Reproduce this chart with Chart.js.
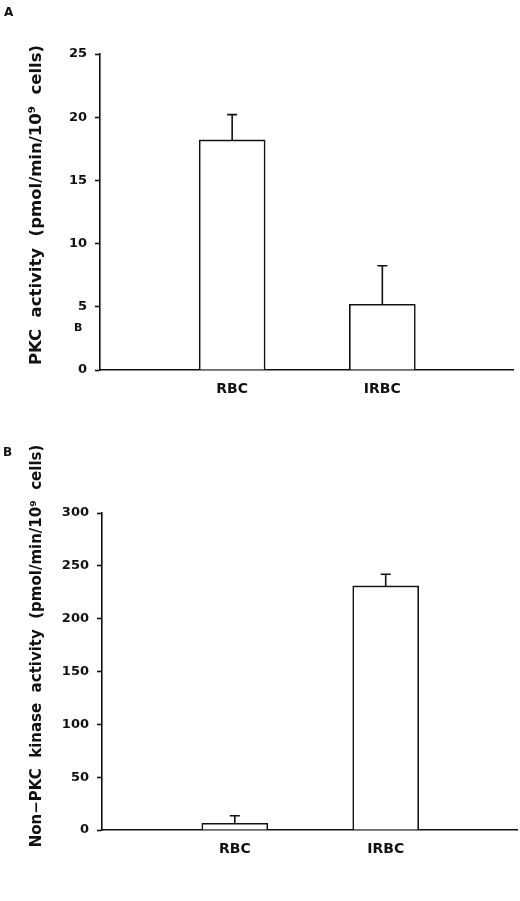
<!DOCTYPE html>
<html>
<head>
<meta charset="utf-8">
<script src="https://cdn.jsdelivr.net/npm/chart.js@4/dist/chart.umd.min.js"></script>
<style>
  html, body { margin: 0; padding: 0; background: #fff; }
  body { width: 520px; height: 901px; position: relative; overflow: hidden; font-family: "DejaVu Sans", sans-serif; }
  .wrap { position: absolute; left: 0; width: 520px; }
  #wa { top: 0; height: 420px; }
  #wb { top: 440px; height: 461px; }
  .lbl { position: absolute; font-weight: bold; color: #111; line-height: 1; }
</style>
</head>
<body>
<div class="wrap" id="wa"><canvas id="ca"></canvas></div>
<div class="wrap" id="wb"><canvas id="cb"></canvas></div>
<div class="lbl" style="left:4px; top:6px; font-size:12px;">A</div>
<div class="lbl" style="left:3px; top:446px; font-size:12px;">B</div>
<div class="lbl" style="left:74px; top:322px; font-size:11px;">B</div>
<script>
// ---- data ----
const categories = ["RBC", "IRBC"];
const pkcValues = [18.2, 5.2];
const pkcErrors = [2.0, 3.05];
const nonPkcValues = [6.3, 231];
const nonPkcErrors = [7.2, 11];
const pkcTitle = "PKC  activity  (pmol/min/10\u2079  cells)";
const nonPkcTitle = "Non\u2212PKC  kinase  activity  (pmol/min/10\u2079  cells)";

Chart.defaults.font.family = "'DejaVu Sans', sans-serif";
Chart.defaults.font.weight = "bold";
Chart.defaults.color = "#111";
Chart.defaults.animation = false;

const errorBarPlugin = {
  id: "errorBars",
  afterDatasetsDraw(chart, args, opts) {
    const ctx = chart.ctx;
    const meta = chart.getDatasetMeta(0);
    const ys = chart.scales.y;
    const errs = opts.errors || [];
    ctx.save();
    ctx.strokeStyle = "#111";
    ctx.lineWidth = 1.6;
    meta.data.forEach((bar, i) => {
      const v = chart.data.datasets[0].data[i].y;
      const yTop = ys.getPixelForValue(v + errs[i]);
      const yBar = ys.getPixelForValue(v);
      ctx.beginPath();
      ctx.moveTo(bar.x, yBar);
      ctx.lineTo(bar.x, yTop);
      ctx.moveTo(bar.x - 5, yTop);
      ctx.lineTo(bar.x + 5, yTop);
      ctx.stroke();
    });
    ctx.restore();
  }
};

const yTitlePlugin = {
  id: "yTitle",
  afterDraw(chart, args, opts) {
    const ctx = chart.ctx;
    ctx.save();
    ctx.translate(opts.x, opts.y);
    ctx.rotate(-Math.PI / 2);
    ctx.font = "bold " + opts.size + "px 'DejaVu Sans', sans-serif";
    ctx.fillStyle = "#111";
    ctx.textAlign = "center";
    ctx.textBaseline = "middle";
    ctx.fillText(opts.text, 0, 0);
    ctx.restore();
  }
};

function makeChart(id, values, errors, yMax, yStep, title, titleSize, titleX, titleY, yWidth, xHeight, padTop, padRight) {
  return new Chart(document.getElementById(id), {
    type: "bar",
    data: {
      datasets: [{
        data: values.map((v, i) => ({ x: i, y: v })),
        backgroundColor: "#fff",
        borderColor: "#111",
        borderWidth: 1.6,
        barThickness: 66
      }]
    },
    options: {
      responsive: true,
      maintainAspectRatio: false,
      layout: { padding: { top: padTop, right: padRight, left: 0, bottom: 0 } },
      plugins: {
        legend: { display: false },
        tooltip: { enabled: false },
        errorBars: { errors: errors },
        yTitle: { text: title, size: titleSize, x: titleX, y: titleY }
      },
      scales: {
        x: {
          type: "linear",
          offset: false,
          min: -0.88,
          max: 1.87,
          grid: { display: false, offset: false },
          border: { display: true, color: "#111", width: 1.6 },
          afterBuildTicks: (s) => { s.ticks = categories.map((c, i) => ({ value: i })); },
          afterFit: (s) => { s.height = xHeight; },
          ticks: {
            font: { size: 14, weight: "bold" },
            padding: 3,
            maxRotation: 0,
            callback: (v) => categories[v] ?? ""
          }
        },
        y: {
          min: 0,
          max: yMax,
          grid: { drawOnChartArea: false, drawTicks: true, tickLength: 5, tickColor: "#111", tickWidth: 1.6 },
          border: { display: true, color: "#111", width: 1.6 },
          afterFit: (s) => { s.width = yWidth; },
          ticks: { stepSize: yStep, padding: 8, font: { size: 13, weight: "bold" } }
        }
      }
    },
    plugins: [errorBarPlugin, yTitlePlugin]
  });
}

makeChart("ca", pkcValues, pkcErrors, 25, 5, pkcTitle, 16.5, 37, 205, 100, 50, 54, 7);
makeChart("cb", nonPkcValues, nonPkcErrors, 300, 50, nonPkcTitle, 15, 37, 206, 102, 71, 73, 3);
</script>
</body>
</html>
